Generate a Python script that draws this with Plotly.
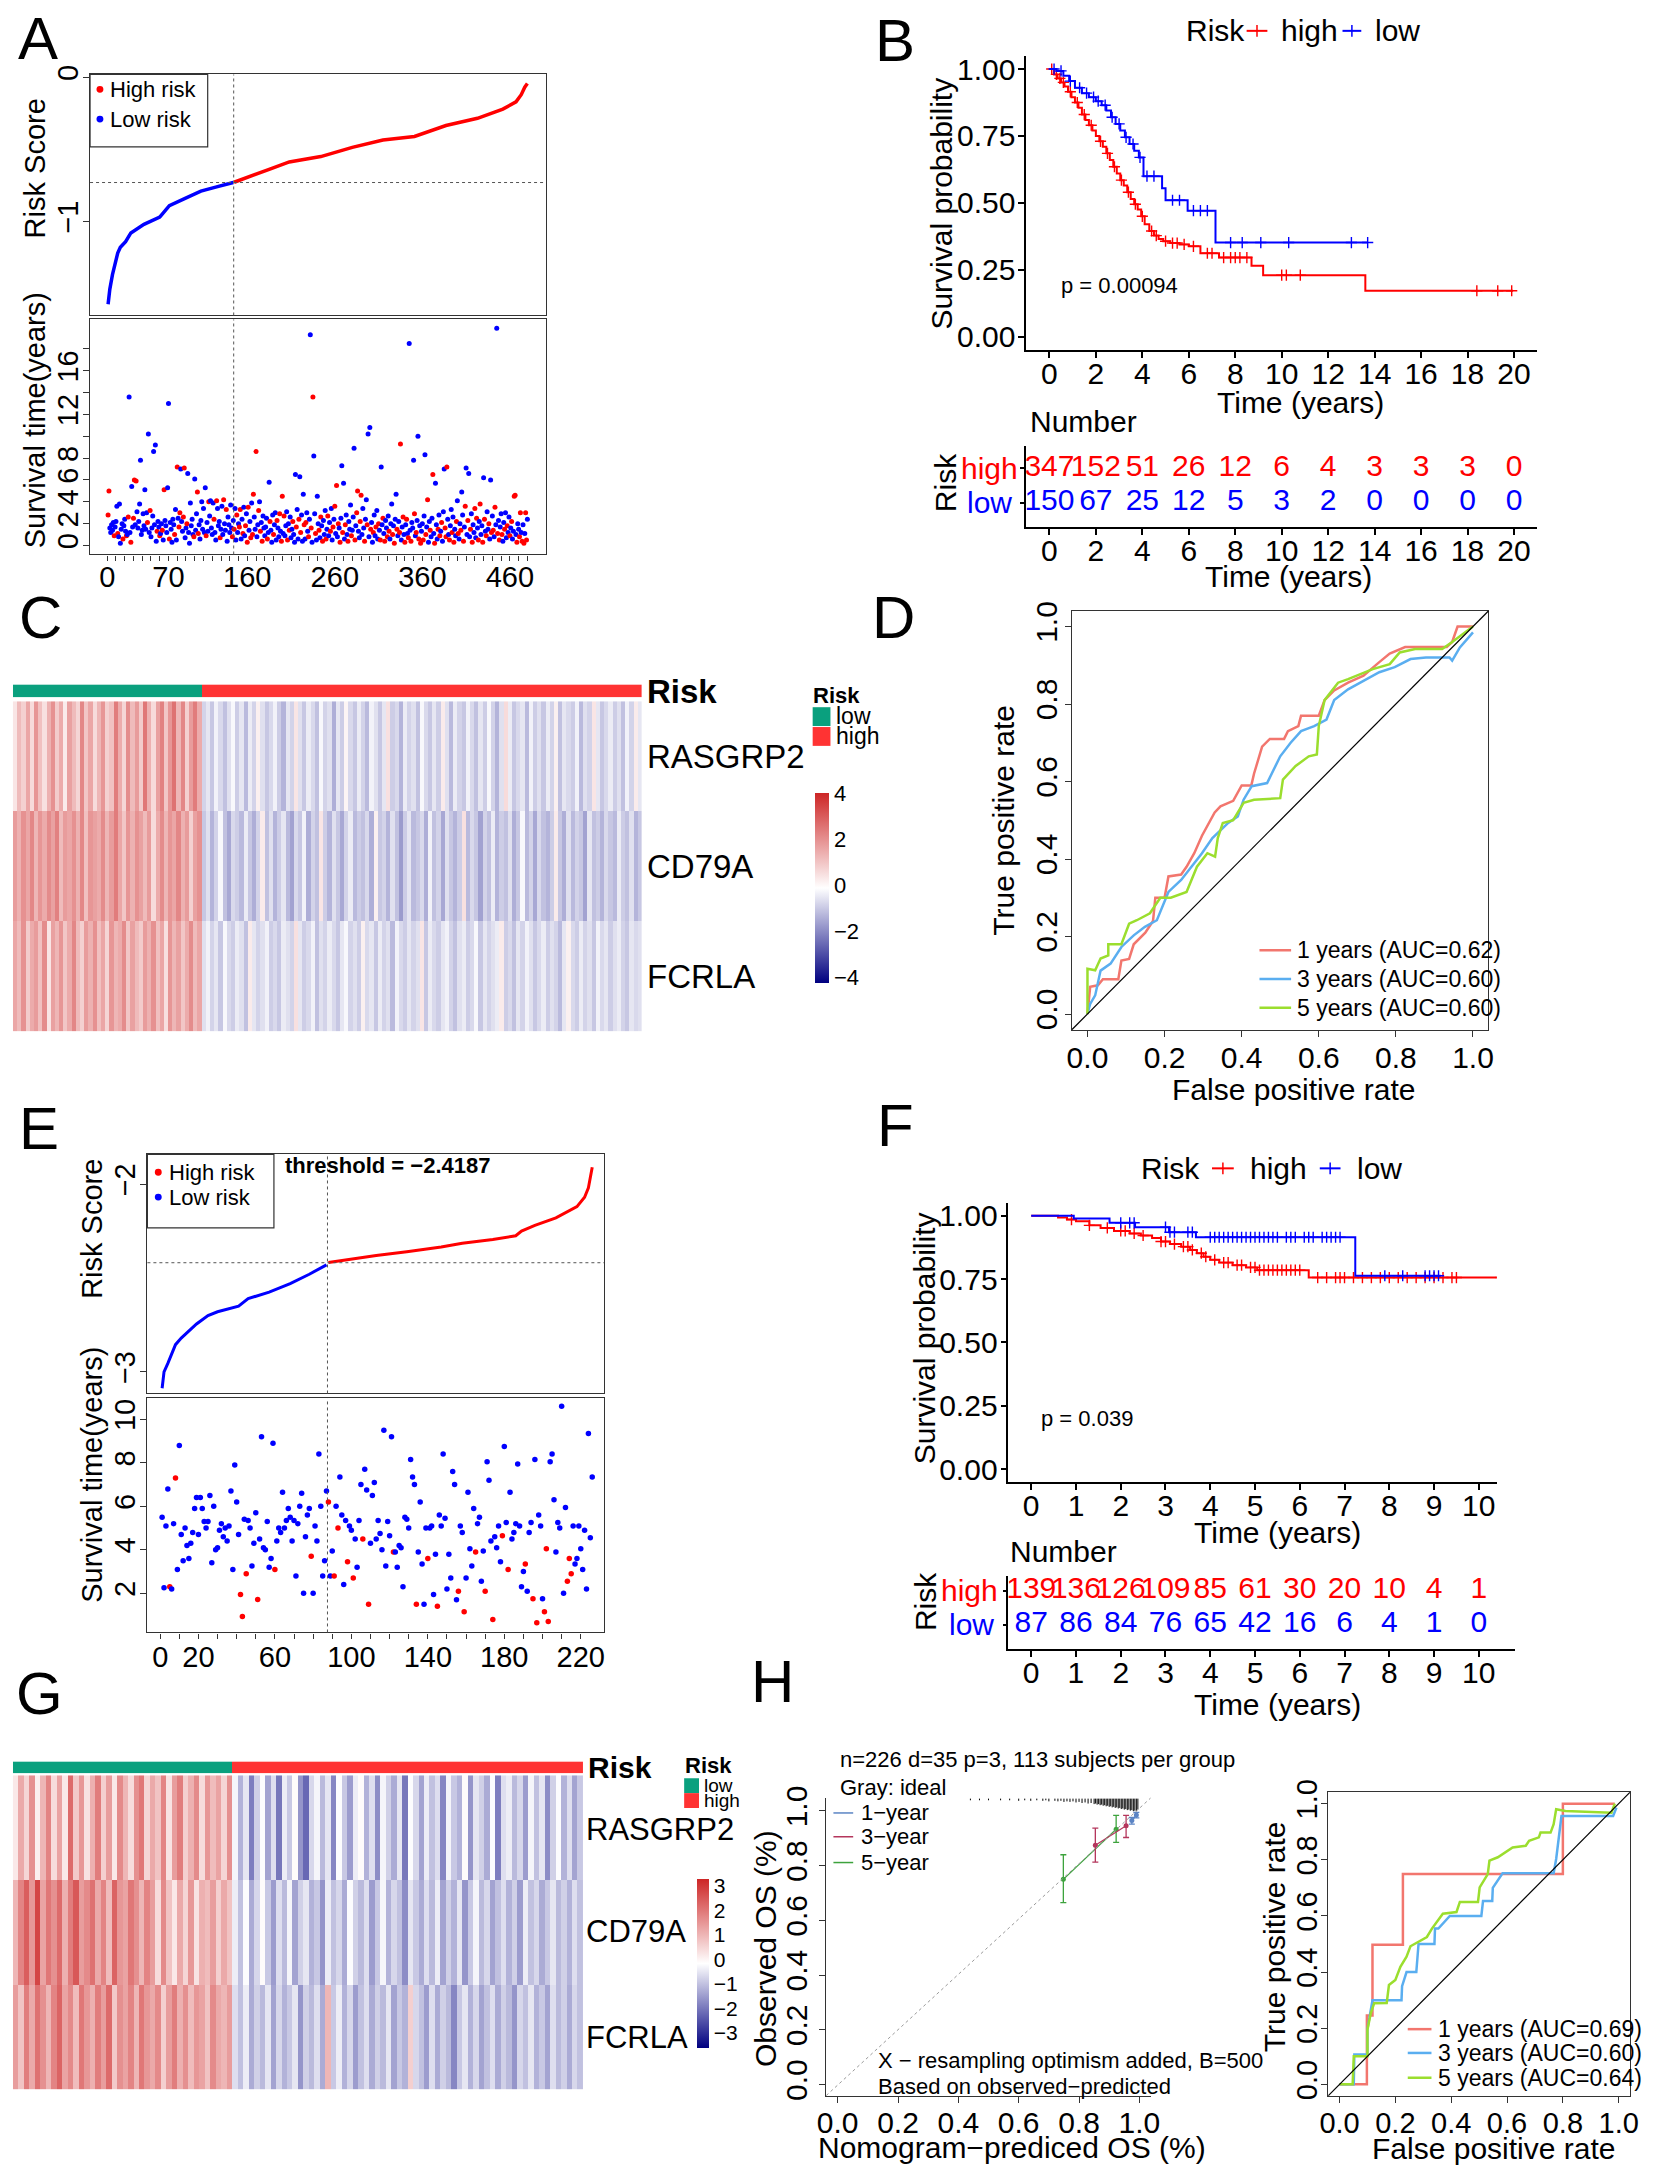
import numpy as np
import plotly.graph_objects as go

# ====================== DATA ======================
# ---- Panel A (training set risk plot) ----
A_low_rank = [1, 3, 6, 9, 12, 15, 21, 27, 42, 60, 71, 89, 107, 125, 144]
A_low_score = [-1.575, -1.47, -1.37, -1.30, -1.22, -1.18, -1.14, -1.08, -1.02, -0.97, -0.89, -0.84, -0.79, -0.76, -0.73]
A_high_rank = [145, 167, 185, 208, 244, 280, 315, 351, 387, 423, 452, 467, 473, 477, 480]
A_high_score = [-0.728, -0.676, -0.638, -0.587, -0.55, -0.486, -0.435, -0.41, -0.334, -0.284, -0.22, -0.17, -0.12, -0.068, -0.043]
A_threshold = -0.73
A_n_low = 144
A_time = [
    2.8,5.0,1.6,1.2,1.9,1.4,2.1,0.9,1.7,2.2,3.6,1.1,0.8,3.8,0.2,1.5,2.0,0.6,1.8,2.4,
    1.3,0.9,1.0,2.6,13.6,1.2,0.3,5.4,1.7,2.5,6.0,1.9,5.9,3.1,1.6,2.2,3.8,7.8,1.0,1.4,
    2.9,1.8,5.1,1.5,3.0,2.1,10.2,1.2,3.2,0.8,1.6,2.7,8.6,1.9,9.2,0.4,1.3,2.2,1.7,0.9,
    1.1,2.0,1.4,0.5,5.1,2.3,1.8,1.2,5.3,13.0,0.6,2.1,1.5,0.3,2.4,1.9,1.0,3.3,0.5,7.2,
    2.5,1.7,3.0,7.0,2.2,1.3,2.6,7.1,0.7,1.6,2.0,6.6,1.2,0.2,3.9,1.8,2.4,1.0,0.8,6.1,
    1.4,2.9,4.9,1.1,1.9,0.6,2.3,4.0,1.5,3.4,1.2,5.3,0.9,2.1,1.3,4.0,2.7,4.1,1.6,1.0,
    3.9,2.4,1.2,0.5,4.1,3.4,1.8,2.2,0.7,1.5,3.6,1.0,4.2,2.0,1.4,3.3,0.4,2.6,1.9,1.2,
    3.7,1.6,0.8,2.3,1.5,3.4,0.5,2.8,1.2,2.0,1.7,3.3,0.6,2.4,1.1,3.5,0.9,1.8,2.9,0.3,
    3.5,1.4,2.2,0.7,3.9,1.0,4.7,2.6,1.5,8.6,0.8,1.9,3.2,4.0,1.3,2.1,0.4,2.7,1.6,0.9,
    1.7,2.5,0.6,1.2,5.8,2.2,1.4,0.3,2.8,1.0,1.9,3.0,0.5,2.3,1.6,0.8,2.9,1.3,0.4,4.5,
    1.1,2.7,0.9,1.8,3.1,0.5,2.0,1.4,2.6,0.7,1.5,2.2,1.0,0.3,6.5,1.7,3.3,0.6,2.4,6.3,
    1.2,2.8,0.4,4.7,1.9,0.6,2.1,3.0,1.3,0.8,2.4,19.3,1.6,0.3,13.6,8.2,2.9,1.1,0.5,4.5,
    2.0,1.4,0.7,2.6,1.8,0.4,2.3,1.0,3.2,0.6,1.5,2.7,0.9,2.1,1.3,3.4,0.5,1.7,2.4,3.6,
    1.1,5.5,0.8,2.0,1.6,0.3,2.5,7.3,1.2,5.7,0.6,1.9,2.8,1.0,0.4,2.2,1.5,3.7,0.9,1.4,
    2.6,8.9,0.5,1.8,3.0,5.0,1.3,0.7,2.2,4.6,1.0,3.4,1.6,0.4,2.4,4.2,1.9,10.2,0.8,10.8,
    1.5,2.1,0.3,1.2,2.8,0.9,1.7,3.2,0.6,2.0,1.4,0.5,7.2,1.9,2.5,1.1,0.4,2.3,1.6,0.8,
    2.7,1.3,0.6,2.0,3.8,1.0,1.8,0.2,2.4,4.7,1.5,0.9,2.2,1.2,9.3,0.5,1.7,2.6,1.0,0.3,
    1.9,2.4,1.1,0.7,18.5,1.4,0.4,2.1,1.6,7.8,2.9,0.9,1.2,2.3,10.0,0.6,1.8,0.2,1.3,2.0,
    0.5,2.7,8.3,1.0,1.7,4.2,0.3,2.2,1.4,0.8,2.5,6.5,1.1,0.2,5.7,1.9,0.6,1.5,2.8,0.9,
    1.3,2.1,0.4,3.1,7.0,1.6,0.8,7.2,2.4,1.0,0.5,1.8,3.3,1.2,2.6,0.3,1.5,0.9,2.2,4.1,
    1.1,0.6,2.0,1.4,4.9,2.8,0.4,1.7,3.6,7.1,1.0,2.3,6.6,0.8,1.5,2.9,0.3,1.9,1.2,3.4,
    0.7,2.5,1.6,0.5,2.2,3.8,1.0,1.8,0.3,6.2,2.4,1.3,0.9,3.1,1.5,2.0,0.6,6.0,1.2,2.7,
    1.4,0.8,3.5,1.9,19.9,1.1,2.3,0.5,1.7,2.9,1.0,0.4,2.1,1.5,3.0,0.7,1.8,1.2,2.6,0.9,
    1.6,2.2,0.6,1.3,4.5,4.6,1.0,0.3,2.0,1.5,0.8,3.0,1.2,0.4,1.9,0.2,1.1,3.0,0.5,2.4]
A_dead = [
    1,1,0,0,0,0,0,1,0,0,0,1,0,0,0,0,0,1,0,0,
    0,1,0,1,0,0,1,0,0,1,1,0,1,0,0,0,0,0,0,0,
    0,0,0,0,0,1,0,0,1,0,0,0,0,0,0,0,1,0,0,1,
    0,0,1,0,1,0,0,0,0,0,1,0,0,0,0,0,1,0,0,1,
    0,1,1,0,0,0,1,1,0,0,1,0,0,0,0,0,0,0,1,0,
    0,0,1,1,0,0,0,0,0,0,0,0,1,0,0,1,0,0,0,0,
    0,1,0,0,1,0,0,0,1,0,0,0,1,0,0,1,0,0,0,0,
    0,0,1,0,1,0,0,1,0,0,1,1,0,0,1,0,0,1,0,1,
    1,0,0,1,0,1,1,0,0,1,0,0,1,0,1,0,1,0,0,0,
    0,0,1,0,0,1,0,0,0,1,0,0,0,1,0,0,1,0,1,1,
    0,1,0,0,0,1,0,1,0,0,0,1,0,0,0,1,0,0,1,0,
    1,0,0,0,1,0,1,0,0,1,0,0,1,0,1,0,0,1,0,0,
    0,1,0,1,0,1,0,0,0,1,0,1,0,0,1,0,0,1,0,1,
    0,1,0,1,0,1,0,0,1,0,0,1,0,0,1,0,0,0,1,0,
    0,0,1,0,1,1,0,0,1,1,0,0,0,1,0,0,1,0,0,0,
    1,0,0,1,0,0,1,0,0,1,0,1,0,0,1,0,1,0,0,1,
    0,1,0,0,0,1,0,1,0,0,1,0,0,1,1,0,0,1,0,1,
    0,1,0,1,0,0,1,0,0,0,1,0,1,0,0,1,0,1,0,0,
    1,0,0,1,0,1,0,0,1,0,0,1,0,1,0,0,0,1,0,1,
    0,1,0,0,0,1,1,1,0,0,1,0,0,1,0,1,0,0,1,0,
    1,0,0,1,0,0,1,0,1,0,0,1,0,0,1,0,1,0,0,1,
    0,1,0,1,0,1,0,0,1,0,1,0,1,0,0,1,0,0,1,0,
    1,0,1,0,0,1,0,1,0,0,1,0,0,1,0,0,1,0,0,1,
    0,1,0,0,1,1,0,1,0,0,1,1,0,1,0,1,0,1,1,0]
A_xtick_labels = [0, 70, 160, 260, 360, 460]
A_ytick_labels = [0, 2, 4, 6, 8, 12, 16]

# ---- Panel B (training KM) ----
B_high_t = [0, 0.2, 0.35, 0.5, 0.65, 0.8, 0.95, 1.1, 1.25, 1.4, 1.55, 1.7, 1.85, 2.0, 2.15, 2.3, 2.45, 2.6, 2.75, 2.9,
            3.05, 3.2, 3.35, 3.5, 3.65, 3.8, 3.95, 4.1, 4.3, 4.5, 4.7, 4.9, 5.2, 5.6, 6.0, 6.5, 7.3, 8.7, 9.2, 13.6]
B_high_s = [1.0, 0.98, 0.965, 0.95, 0.935, 0.915, 0.895, 0.875, 0.855, 0.83, 0.81, 0.79, 0.77, 0.75, 0.73, 0.71, 0.685, 0.66, 0.635, 0.61,
            0.585, 0.565, 0.54, 0.515, 0.495, 0.475, 0.45, 0.42, 0.395, 0.378, 0.365, 0.357, 0.35, 0.345, 0.338, 0.312, 0.296, 0.265, 0.23, 0.172]
B_high_end = 19.96
B_high_cens = [0.1, 0.3, 0.45, 0.6, 0.9, 1.2, 1.5, 1.8, 2.2, 2.5, 2.8, 3.1, 3.4, 3.7, 4.0, 4.4, 4.6, 5.0, 5.3, 5.5, 5.8,
               6.2, 6.8, 7.0, 7.5, 7.8, 8.0, 8.2, 8.5, 10.0, 10.2, 10.8, 18.4, 19.3, 19.9]
B_low_t = [0, 0.3, 0.6, 0.85, 1.1, 1.4, 1.7, 2.0, 2.25, 2.45, 2.65, 2.85, 3.05, 3.25, 3.45, 3.65, 3.85, 4.05, 4.85, 5.0, 5.95, 7.15]
B_low_s = [1.0, 0.993, 0.975, 0.955, 0.93, 0.91, 0.895, 0.88, 0.865, 0.845, 0.82, 0.795, 0.77, 0.745, 0.72, 0.695, 0.67, 0.60, 0.555, 0.51, 0.471, 0.352]
B_low_end = 13.7
B_low_cens = [0.2, 0.5, 0.9, 1.3, 1.6, 1.9, 2.1, 2.4, 2.7, 3.0, 3.3, 3.6, 3.9, 4.2, 4.5, 5.3, 5.6, 6.2, 6.5, 6.8, 7.8, 8.3, 9.1, 10.3, 13.0, 13.7]
B_table_t = [0, 2, 4, 6, 8, 10, 12, 14, 16, 18, 20]
B_table_high = [347, 152, 51, 26, 12, 6, 4, 3, 3, 3, 0]
B_table_low = [150, 67, 25, 12, 5, 3, 2, 0, 0, 0, 0]
B_pval = "p = 0.00094"

# ---- Panel C (training heatmap) ----
C_genes = ["RASGRP2", "CD79A", "FCRLA"]
C_RAS_low = [0.4,1.2,0.8,1.6,0.6,1.9,1.1,0.5,1.4,2.0,0.9,1.5,0.3,1.7,1.2,0.7,2.2,1.0,1.6,0.6,1.3,1.9,0.8,1.1,2.4,
             1.5,0.7,2.1,1.2,1.8,0.9,2.5,1.4,0.6,1.7,2.3,1.0,1.9,2.6,1.3,2.2,0.8,1.8,2.4,1.5]
C_RAS_high = [-0.8,-0.5,-1.0,-0.3,-0.7,-1.1,-0.6,-0.2,-0.9,-0.5,-1.2,-0.4,-0.8,0.2,-0.6,-1.0,-0.7,-0.3,-0.9,-1.3,
              -0.5,-0.8,0.4,-0.6,-1.0,-0.4,-0.7,-1.1,-0.2,-0.8,-0.6,-1.4,-0.5,-0.9,0.1,-0.7,-1.0,-0.4,-0.8,-1.2,
              -0.3,-0.6,-1.0,-0.5,0.5,-0.9,-0.7,-1.3,-0.4,-0.8,-0.6,-1.1,-0.2,-0.7,-1.0,-0.5,-0.9,0.3,-0.6,-1.2,
              -0.4,-0.8,-1.0,-0.3,-0.7,-1.1,-0.5,-0.9,-0.2,-0.8,-1.3,-0.6,0.6,-0.4,-1.0,-0.7,-0.5,-1.2,-0.3,-0.9,
              -0.6,-1.0,-0.4,-0.8,0.2,-1.1,-0.5,-0.7,-0.9,-0.3,-1.2,-0.6,-0.8,0.4,-0.5,-1.0,-0.7,-0.4,-0.9,-0.6,
              -1.1,-0.3,-0.8,0.3,-0.5]
C_CD79A_low = [1.8,1.4,2.0,1.6,2.2,1.3,1.9,1.5,2.1,1.7,2.3,1.2,1.8,1.6,2.0,1.4,2.2,1.1,1.9,1.7,1.5,2.1,1.3,1.8,2.4,
               1.6,1.0,1.9,1.4,2.0,1.7,1.2,1.8,0.6,1.5,2.1,1.3,1.9,1.6,2.2,1.4,1.8,0.8,1.7,2.0]
C_CD79A_high = [-1.0,-0.6,-1.3,-0.8,-0.2,-1.1,-1.5,-0.7,-0.9,-1.2,-0.4,-1.0,-1.4,-0.8,0.3,-1.1,-0.6,-1.3,-0.9,-0.5,
                -1.2,-1.6,-0.7,-1.0,-0.3,-1.4,-0.8,-1.1,0.4,-0.9,-1.3,-0.6,-1.0,-1.5,-0.8,-0.4,-1.2,-0.9,-1.1,-0.7,
                -1.4,0.2,-1.0,-0.8,-1.3,-0.6,-1.1,-1.7,-0.9,-0.5,-1.2,-1.0,-0.7,-1.4,-0.3,-1.1,-0.8,-1.5,-0.6,-1.0,
                -1.3,-0.9,0.5,-1.2,-0.7,-1.0,-1.6,-0.8,-1.1,-0.4,-1.3,-0.9,-1.1,-0.6,-1.4,-1.0,-0.2,-1.2,-0.8,-1.5,
                -0.7,-1.1,-1.3,-0.9,0.3,-1.0,-1.4,-0.6,-1.2,-0.8,-1.0,-1.6,-0.5,-1.1,-0.9,-1.3,-0.7,-1.0,-1.2,-0.4,
                -0.9,-1.1,-0.6,-1.3,-1.0]
C_FCRLA_low = [1.6,1.2,2.0,0.9,1.5,1.8,1.1,2.1,0.4,1.7,1.3,1.9,1.0,1.5,2.2,1.2,0.8,1.8,1.4,2.0,1.1,1.6,0.7,1.9,1.3,
               1.5,2.1,1.0,1.7,1.2,0.9,1.8,1.4,2.0,1.1,1.6,0.5,1.9,1.3,1.7,1.0,1.5,2.1,1.2,1.6]
C_FCRLA_high = [-0.6,-0.3,-0.8,-0.5,-1.0,-0.2,-0.7,-0.9,-0.4,-0.6,-1.1,0.3,-0.5,-0.8,-0.6,-0.3,-0.9,-0.7,-1.0,-0.4,
                -0.6,-0.8,0.5,-0.5,-0.9,-0.7,-0.3,-1.1,-0.6,-0.8,-0.4,-0.7,-1.0,-0.5,-0.2,-0.8,-0.6,-0.9,0.2,-0.7,
                -0.5,-1.0,-0.4,-0.8,-0.6,-1.2,-0.3,-0.7,-0.9,-0.5,-0.8,-0.6,0.4,-1.0,-0.4,-0.7,-0.9,-0.5,-0.3,-0.8,
                -1.1,-0.6,-0.4,-0.9,-0.7,-0.2,-1.0,-0.5,-0.8,-0.6,-0.4,0.3,-0.9,-0.7,-1.1,-0.5,-0.8,-0.3,-0.6,-1.0,
                -0.7,-0.4,-0.9,-0.6,-0.8,-1.2,-0.5,0.2,-0.7,-0.9,-0.4,-0.8,-0.6,-1.0,-0.3,-0.7,-0.5,-0.9,-0.6,-0.4,
                -0.8,-1.0,-0.5,-0.7,-0.6]
C_zmin, C_zmax = -4.22, 4.04
C_cbar_ticks = [-4, -2, 0, 2, 4]

# ---- Panel D (training ROC) ----
D_fpr1 = [0,0.007,0.027,0.04,0.08,0.088,0.108,0.12,0.15,0.17,0.176,0.2,0.21,0.243,0.257,0.277,0.297,0.318,0.33,0.345,
          0.378,0.4,0.425,0.432,0.453,0.473,0.51,0.52,0.547,0.554,0.6,0.615,0.64,0.676,0.716,0.757,0.784,0.824,0.932,0.946,0.96,1.0]
D_tpr1 = [0,0.07,0.074,0.09,0.09,0.138,0.142,0.18,0.21,0.24,0.30,0.30,0.355,0.36,0.38,0.415,0.46,0.497,0.52,0.536,
          0.55,0.59,0.59,0.62,0.69,0.71,0.71,0.73,0.743,0.77,0.77,0.81,0.835,0.855,0.873,0.908,0.93,0.947,0.947,0.96,1.0,1.0]
D_fpr3 = [0,0.007,0.02,0.034,0.06,0.088,0.12,0.149,0.18,0.21,0.243,0.27,0.297,0.324,0.365,0.39,0.405,0.426,0.466,0.5,
          0.527,0.554,0.588,0.62,0.64,0.676,0.716,0.757,0.797,0.838,0.878,0.939,0.946,0.966,1.0]
D_tpr3 = [0,0.026,0.048,0.112,0.13,0.173,0.203,0.225,0.242,0.315,0.346,0.38,0.415,0.454,0.493,0.51,0.553,0.588,0.596,0.665,
          0.70,0.73,0.743,0.76,0.81,0.838,0.86,0.882,0.895,0.916,0.92,0.92,0.912,0.946,0.985]
D_fpr5 = [0,0,0.02,0.034,0.054,0.054,0.088,0.108,0.128,0.162,0.189,0.216,0.257,0.284,0.311,0.331,0.338,0.351,0.378,0.405,
          0.432,0.5,0.507,0.54,0.574,0.595,0.6,0.615,0.65,0.676,0.74,0.784,0.81,0.85,0.92,0.946,1.0]
D_tpr5 = [0,0.117,0.113,0.143,0.151,0.18,0.18,0.233,0.242,0.26,0.30,0.30,0.315,0.38,0.415,0.406,0.454,0.493,0.50,0.545,
          0.553,0.557,0.605,0.64,0.665,0.67,0.743,0.81,0.855,0.864,0.89,0.903,0.933,0.942,0.942,0.96,1.0]
D_labels = ["1 years (AUC=0.62)", "3 years (AUC=0.60)", "5 years (AUC=0.60)"]

# ---- Panel E (validation risk plot) ----
E_low_rank = [1, 2, 4, 6, 8, 11, 15, 19, 25, 30, 41, 46, 57, 68, 78, 87]
E_low_score = [-3.087, -3.0, -2.955, -2.905, -2.855, -2.82, -2.785, -2.745, -2.70, -2.68, -2.65, -2.61, -2.575, -2.53, -2.48, -2.43]
E_high_rank = [88, 99, 113, 129, 147, 158, 174, 186, 189, 196, 207, 218, 222, 224, 226]
E_high_score = [-2.418, -2.40, -2.38, -2.36, -2.335, -2.315, -2.295, -2.275, -2.25, -2.22, -2.18, -2.12, -2.07, -2.02, -1.91]
E_threshold = -2.4187
E_low_time = [5.5,2.25,5.1,6.8,2.3,2.2,5.2,7.3,3.1,8.8, 4.7,3.5,5.0,4.2,3.6,4.3,4.8,5.9,6.4,4.7,
              6.4,5.9,5.3,5.0,5.3,6.5,3.4,6.0,4.0,4.1, 4.9,5.2,4.6,5.0,4.4,5.1,6.7,3.1,7.9,6.2,
              4.7,1.95,0.93,5.4,2.9,5.35,5.0,3.25,4.3,5.7, 1.72,4.5,9.2,4.1,4.0,5.3,3.2,3.6,8.9,3.1,
              4.4,5.0,4.8,6.65,5.0,5.35,5.9,5.5,4.4,5.35, 2.8,5.2,6.0,6.6,2.0,4.6,5.6,5.9,3.7,2.0,
              5.1,4.4,8.4,6.0,2.8,3.5,6.7]
E_low_dead = [0,0,0,0,1,0,0,1,0,0, 0,0,0,0,0,0,0,0,0,0, 0,0,0,0,0,0,0,0,0,0, 0,0,0,0,0,0,0,0,0,0,
              0,1,1,0,1,0,0,0,0,0, 1,0,0,0,0,0,0,0,0,1, 0,0,0,0,0,0,0,0,0,0, 0,0,0,0,0,0,0,0,1,0,
              0,0,0,0,0,0,0]
E_high_time = [6.2,2.8,3.95,2.8,6.0,5.0,7.35,5.6,2.4,5.35, 3.45,5.1,4.9,2.7,4.5,3.2,5.35,7.0,4.5,7.7,
               6.75,1.5,4.3,6.5,7.1,4.5,5.35,4.75,4.0,9.5, 3.25,5.3,4.65,9.2,3.9,3.9,3.2,4.2,4.1,2.3,
               5.5,5.4,5.0,8.15,7.35,7.0,1.5,3.9,6.2,3.35, 1.5,5.0,3.6,5.0,5.1,1.95,3.8,1.4,5.6,5.1,
               8.4,5.45,2.2,3.8,2.7,7.6,7.0,1.7,2.1,5.1, 4.8,1.15,2.7,6.65,4.05,3.25,5.9,3.9,5.2,5.5,
               2.55,3.95,2.1,8.05,7.2,4.4,0.8,4.6,4.1,5.1, 3.45,4.65,8.75,5.25,3.1,6.65,4.5,4.8,5.2,7.95,
               5.1,2.3,3.0,3.35,2.1,4.8,5.25,1.75,8.15,0.65, 5.6,5.1,1.75,1.15,4.05,0.7,8.05,8.4,6.3,3.9,
               5.25,5.0,10.6,2.0,5.95,2.55,3.6,2.9,5.1,3.35, 3.6,5.1,4.05,3.1,4.9,2.2,9.35,4.55,7.35]
E_high_dead = [1,0,0,1,0,1,0,0,0,0, 1,0,0,1,0,0,0,0,1,0, 0,1,0,0,0,0,0,0,0,0, 0,0,0,0,1,0,0,0,0,0,
               0,0,0,0,0,0,1,0,0,0, 0,0,1,0,0,0,0,1,0,0, 0,0,0,0,0,0,0,0,1,0, 0,1,0,0,0,0,0,1,0,0,
               0,0,1,0,0,0,1,0,0,0, 0,1,0,0,1,0,0,0,0,0, 0,0,0,1,0,0,0,1,0,1, 0,0,0,1,1,1,0,0,0,0,
               0,0,0,0,0,1,1,1,0,0, 0,0,0,0,0,0,0,0,0]
E_xtick_labels = [0, 20, 60, 100, 140, 180, 220]

# ---- Panel F (validation KM) ----
F_high_t = [0, 0.6, 0.8, 1.0, 1.3, 1.55, 1.85, 2.2, 2.45, 2.7, 2.9, 3.1, 3.35, 3.55, 3.7, 3.85, 4.0, 4.2, 4.5, 4.8, 5.05, 6.2]
F_high_s = [1.0, 0.993, 0.985, 0.978, 0.962, 0.952, 0.94, 0.93, 0.922, 0.912, 0.898, 0.888, 0.878, 0.865, 0.852, 0.838, 0.826, 0.815, 0.805, 0.796, 0.785, 0.756]
F_high_end = 10.5
F_high_cens = [0.9, 1.3, 1.7, 2.0, 2.1, 2.3, 2.5, 2.9, 3.0, 3.2, 3.4, 3.5, 3.6, 3.8, 3.9, 4.1, 4.3, 4.4, 4.6, 4.7, 4.9, 5.0,
               5.1, 5.2, 5.3, 5.4, 5.5, 5.6, 5.7, 5.8, 5.9, 6.0, 6.4, 6.6, 6.8, 6.9, 7.0, 7.2, 7.4, 7.6, 7.8, 8.0, 8.2, 8.4,
               8.6, 8.8, 9.0, 9.2, 9.4, 9.5, 10.5]
F_low_t = [0, 0.95, 1.75, 2.32, 3.08, 3.68, 7.24]
F_low_s = [1.0, 0.989, 0.972, 0.955, 0.935, 0.915, 0.763]
F_low_end = 9.15
F_low_cens = [2.0, 2.2, 2.3, 3.0, 3.1, 3.2, 3.5, 3.6, 4.0, 4.1, 4.2, 4.3, 4.4, 4.5, 4.6, 4.7, 4.8, 4.9, 5.0, 5.1, 5.2, 5.3,
              5.4, 5.5, 5.7, 5.8, 5.9, 6.1, 6.2, 6.3, 6.5, 6.6, 6.7, 6.8, 6.9, 7.9, 8.3, 8.8, 8.9, 9.0, 9.1]
F_table_t = [0, 1, 2, 3, 4, 5, 6, 7, 8, 9, 10]
F_table_high = [139, 136, 126, 109, 85, 61, 30, 20, 10, 4, 1]
F_table_low = [87, 86, 84, 76, 65, 42, 16, 6, 4, 1, 0]
F_pval = "p = 0.039"

# ---- Panel G (validation heatmap) ----
G_RAS_low = [0.2,1.2,0.5,1.6,0.1,1.0,1.8,0.4,1.3,0.2,2.2,0.7,1.5,0.3,1.1,1.9,0.6,1.4,0.2,1.7,
             1.0,0.4,1.6,2.0,0.5,1.2,0.8,1.8,0.3,1.4,1.9,0.6,1.1,1.7,0.4,1.5,0.9,1.3,0.5,1.6]
G_RAS_high = [-0.3,-1.2,-0.5,-1.9,-0.8,-0.2,-1.4,-0.6,-2.0,-0.4,-0.9,-0.1,-1.6,-2.2,-0.7,-0.3,-1.1,-0.5,-1.8,-0.2,
              -0.9,-1.5,-0.4,-0.1,-1.2,-0.6,-1.7,-0.3,-0.8,-1.3,-0.5,-2.0,-0.2,-0.7,-1.4,-0.4,-1.0,-0.6,-1.8,-0.3,
              -0.9,-1.2,-0.1,-1.6,-0.5,-0.8,-1.3,-0.2,-1.9,-0.6,-0.4,-1.1,-0.7,-1.5,-0.3,-1.0,-0.5,-1.7,-0.8,-0.2,
              -1.2,-0.6,-1.4,-0.9]
G_CD79A_low = [1.0,1.8,2.4,1.5,2.8,1.3,2.0,1.6,2.2,1.1,1.9,2.5,1.4,1.7,2.1,1.2,1.8,0.9,2.3,1.5,
               1.3,2.0,1.6,1.0,1.8,1.4,0.4,1.7,0.8,0.2,1.2,0.5,1.5,0.3,1.1,0.9,1.4,0.6,1.2,0.8]
G_CD79A_high = [-0.4,-1.0,-0.2,-1.3,-0.7,-0.1,-0.9,-1.5,-0.6,-1.1,-0.3,-1.4,-0.8,-0.5,-1.2,-0.9,-1.6,-0.4,-1.0,-0.7,
                -1.3,-0.2,-0.8,-1.1,-0.6,-1.5,-0.9,-0.3,-1.2,-0.7,-1.0,-1.7,-0.5,-0.9,-1.3,-0.6,-1.1,-0.4,-1.4,-0.8,
                -1.2,-0.5,-1.6,-0.9,-0.3,-1.1,-0.7,-1.4,-1.0,-0.6,-1.2,-0.8,-1.5,-0.4,-1.0,-0.7,-1.3,-0.9,-0.5,-1.1,
                -0.8,-1.2,-0.6,-1.0]
G_FCRLA_low = [1.4,0.8,1.9,1.2,2.1,1.6,1.0,1.8,2.3,1.3,1.7,0.9,2.0,1.5,1.1,1.9,1.4,2.2,0.7,1.6,
               1.3,1.8,1.0,2.0,1.5,1.2,1.7,0.6,1.4,1.9,1.1,1.6,0.9,1.5,1.3,0.8,1.7,1.2,1.0,1.4]
G_FCRLA_high = [-0.6,-1.0,-0.4,-1.3,-0.8,-1.1,-0.5,-1.4,-0.7,-1.2,-0.9,-0.5,-1.6,-0.8,-1.1,-0.6,-1.3,1.0,-0.9,-0.4,
                -1.2,-0.7,-1.5,-1.0,-0.6,-1.3,-0.8,-1.1,-0.5,-1.4,-0.9,-1.2,0.6,-0.7,-1.0,-1.5,-0.6,-1.3,-0.8,-1.1,
                -1.8,-0.9,-0.5,-1.2,-0.7,-1.4,-1.0,-0.6,-1.3,-0.8,-1.1,-1.6,-0.7,-1.0,-0.5,-1.2,-0.9,-1.4,-0.6,-1.1,
                -0.8,-1.3,-0.7,-1.0]
G_zmin, G_zmax = -3.61, 3.29
G_cbar_ticks = [-3, -2, -1, 0, 1, 2, 3]

# ---- Panel H (calibration + validation ROC) ----
H_title = "n=226 d=35 p=3, 113 subjects per group"
H_cal1_pred = [0.975, 0.99]; H_cal1_obs = [0.965, 0.985]; H_cal1_lo = [0.952, 0.975]; H_cal1_hi = [0.976, 0.995]
H_cal3_pred = [0.854, 0.956]; H_cal3_obs = [0.875, 0.946]; H_cal3_lo = [0.813, 0.903]; H_cal3_hi = [0.937, 0.984]
H_cal5_pred = [0.748, 0.923]; H_cal5_obs = [0.75, 0.933]; H_cal5_lo = [0.665, 0.885]; H_cal5_hi = [0.84, 0.984]
H_rug_x = [0.44,0.47,0.50,0.54,0.57,0.60,0.62,0.64,0.66,0.68,0.69,0.70,0.72,0.73,0.74,0.75,0.76,0.77,0.78,0.79,
           0.80,0.81,0.82,0.83,0.84,0.85,0.855,0.86,0.865,0.87,0.875,0.88,0.885,0.89,0.895,0.90,0.905,0.91,0.915,0.92,
           0.925,0.93,0.935,0.94,0.945,0.95,0.955,0.96,0.965,0.97,0.975,0.98,0.985,0.99,0.995]
H_rug_h = [0.006,0.006,0.006,0.006,0.006,0.008,0.006,0.008,0.006,0.008,0.006,0.01,0.008,0.01,0.008,0.012,0.01,0.012,0.01,0.014,
           0.012,0.016,0.014,0.018,0.016,0.02,0.018,0.022,0.02,0.024,0.022,0.026,0.024,0.028,0.026,0.03,0.028,0.032,0.03,0.034,
           0.032,0.036,0.034,0.038,0.036,0.04,0.038,0.042,0.04,0.044,0.042,0.046,0.044,0.046,0.04]
H_fpr1 = [0, 0.098, 0.098, 0.118, 0.118, 0.227, 0.227, 0.80, 0.80, 0.986]
H_tpr1 = [0, 0, 0.245, 0.245, 0.497, 0.497, 0.749, 0.749, 1.0, 1.0]
H_fpr3 = [0,0.051,0.053,0.1,0.1,0.118,0.171,0.222,0.224,0.24,0.275,0.283,0.34,0.342,0.354,0.395,0.508,0.514,0.547,0.549,
          0.584,0.767,0.776,0.795,0.98,0.992]
H_tpr3 = [0,0,0.106,0.106,0.197,0.30,0.30,0.30,0.35,0.40,0.40,0.50,0.50,0.555,0.555,0.60,0.60,0.653,0.653,0.70,
          0.752,0.752,0.803,0.956,0.956,0.986]
H_fpr5 = [0,0.047,0.051,0.1,0.1,0.112,0.124,0.169,0.177,0.2,0.218,0.24,0.254,0.281,0.313,0.331,0.348,0.37,0.419,0.431,
          0.496,0.502,0.531,0.537,0.567,0.62,0.667,0.679,0.714,0.72,0.756,0.767,0.776,0.809,0.974,0.986]
H_tpr5 = [0,0,0.10,0.10,0.195,0.254,0.289,0.29,0.354,0.372,0.419,0.455,0.492,0.508,0.525,0.555,0.579,0.608,0.614,0.65,
          0.65,0.702,0.749,0.797,0.809,0.844,0.85,0.868,0.88,0.897,0.897,0.927,0.98,0.974,0.968,1.0]
H_labels = ["1 years (AUC=0.69)", "3 years (AUC=0.60)", "5 years (AUC=0.64)"]

# ====================== STYLE / HELPERS ======================
W, H = 1654, 2172
FONT = "Liberation Sans, Arial, Helvetica, sans-serif"
BOX = "#333333"
RED, BLUE = "#FF0000", "#0000FF"
TEAL, ANNRED = "#0AA07E", "#FF3333"
ROC1, ROC3, ROC5 = "#F2766E", "#5AAEF0", "#9BDE2E"
CAL1, CAL3, CAL5 = "#5B84C4", "#B4365C", "#3DA33D"


def X(p):
    return p / W


def Y(p):
    return 1 - p / H


def xdom(a, b):
    return [a / W, b / W]


def ydom(top, bottom):
    return [1 - bottom / H, 1 - top / H]


annotations, shapes, layout = [], [], {}


def ann(x, y, text, size, color="#000000", xanchor="center", yanchor="middle", angle=0, bold=False):
    if bold:
        text = "<b>" + text + "</b>"
    annotations.append(dict(x=X(x), y=Y(y), xref="paper", yref="paper", text=text, showarrow=False,
                            font=dict(size=size, color=color, family=FONT), xanchor=xanchor,
                            yanchor=yanchor, textangle=angle, borderpad=0))


def pline(x0, y0, x1, y1, color, width=1.0, dash=None):
    ln = dict(color=color, width=width)
    if dash:
        ln["dash"] = dash
    shapes.append(dict(type="line", xref="paper", yref="paper", x0=X(x0), y0=Y(y0), x1=X(x1), y1=Y(y1), line=ln))


def prect(x0, y0, x1, y1, fill, border=None):
    shapes.append(dict(type="rect", xref="paper", yref="paper", x0=X(x0), y0=Y(y1), x1=X(x1), y1=Y(y0),
                       fillcolor=fill, line=dict(width=0) if border is None else dict(color=border, width=1.2)))


def pcircle(cx, cy, r, fill):
    shapes.append(dict(type="circle", xref="paper", yref="paper", x0=X(cx - r), x1=X(cx + r), y0=Y(cy + r),
                       y1=Y(cy - r), fillcolor=fill, line=dict(width=0)))


def base_axis(domain, rng, anchor, tickvals=None, ticktext=None, labels=True, size=29, angle=None,
              mirror=True, lc=BOX, lw=1.2, ticklen=6, standoff=0):
    d = dict(domain=domain, range=rng, anchor=anchor, showgrid=False, zeroline=False,
             showline=True, mirror=mirror, linecolor=lc, linewidth=lw,
             ticks="outside" if tickvals is not None else "", ticklen=ticklen, tickwidth=lw, tickcolor=lc,
             showticklabels=labels, tickfont=dict(size=size, color="#000000", family=FONT),
             ticklabelstandoff=standoff)
    if tickvals is not None:
        d.update(tickmode="array", tickvals=tickvals)
        if ticktext is not None:
            d["ticktext"] = ticktext
    if angle is not None:
        d["tickangle"] = angle
    return d


def hidden_axis(domain, rng, anchor):
    return dict(domain=domain, range=rng, anchor=anchor, visible=False, showgrid=False, zeroline=False)


fig = go.Figure()

# ====================== PANEL A ======================
layout["xaxis"] = base_axis(xdom(82, 543), [-19.6, 501], "y", labels=False)
layout["yaxis"] = base_axis(ydom(62, 305), [-1.653, 0.02], "x", [-1, 0], ["\u22121", "0"], angle=-90, standoff=-7)
A_xt = list(range(0, 481, 10))
layout["xaxis2"] = base_axis(xdom(82, 543), [-19.6, 501], "y2", A_xt,
                             [str(v) if v in A_xtick_labels else "" for v in A_xt], ticklen=5, standoff=-8)
A_yt = list(range(0, 19, 2))
layout["yaxis2"] = base_axis(ydom(309, 546), [-0.82, 20.7], "x2", A_yt,
                             [str(v) if v in A_ytick_labels else "" for v in A_yt], angle=-90, standoff=-7)
fig.add_trace(go.Scatter(x=A_low_rank, y=A_low_score, mode="lines", line=dict(color=BLUE, width=3.5),
                         xaxis="x", yaxis="y", showlegend=False))
fig.add_trace(go.Scatter(x=A_high_rank, y=A_high_score, mode="lines", line=dict(color=RED, width=3.5),
                         xaxis="x", yaxis="y", showlegend=False))
nA = min(len(A_time), len(A_dead))
fig.add_trace(go.Scatter(x=list(range(1, nA + 1)), y=A_time[:nA], mode="markers",
                         marker=dict(size=5, color=[RED if d else BLUE for d in A_dead[:nA]]),
                         xaxis="x2", yaxis="y2", showlegend=False))
for xa, ya in (("x", "y"), ("x2", "y2")):
    shapes.append(dict(type="line", xref=xa, yref=ya + " domain", x0=A_n_low + 0.5, x1=A_n_low + 0.5, y0=0, y1=1,
                       line=dict(color="#555555", width=1, dash="dot")))
shapes.append(dict(type="line", xref="x domain", yref="y", x0=0, x1=1, y0=A_threshold, y1=A_threshold,
                   line=dict(color="#555555", width=1, dash="dot")))
prect(82, 62, 201, 135, "rgba(0,0,0,0)", border=BOX)
pcircle(92, 77, 3.5, RED)
ann(101, 77, "High risk", 22, xanchor="left")
pcircle(92, 107, 3.5, BLUE)
ann(101, 107, "Low risk", 22, xanchor="left")
ann(26, 157, "Risk Score", 29, angle=-90)
ann(26, 411, "Survival time(years)", 29, angle=-90)

# ====================== PANEL B ======================
KM_T = dict(lc="#000000", lw=1.6, mirror=False, size=30)


def km_traces(t, s, end, cens, color, xa, ya):
    xs = list(t) + [end]
    ys = list(s) + [s[-1]]
    fig.add_trace(go.Scatter(x=xs, y=ys, mode="lines", line=dict(color=color, width=2, shape="hv"),
                             xaxis=xa, yaxis=ya, showlegend=False))
    tt = np.array(t)
    cy = [s[int(np.searchsorted(tt, c, side="right")) - 1] for c in cens]
    fig.add_trace(go.Scatter(x=cens, y=cy, mode="markers",
                             marker=dict(symbol="cross-thin", size=8, line=dict(color=color, width=1.4)),
                             xaxis=xa, yaxis=ya, showlegend=False))


layout["xaxis3"] = base_axis(xdom(1029, 1546), [-1, 21], "y3", B_table_t, standoff=-10, **KM_T)
layout["yaxis3"] = base_axis(ydom(43, 340), [-0.05, 1.05], "x3", [0, 0.25, 0.5, 0.75, 1.0],
                             ["0.00", "0.25", "0.50", "0.75", "1.00"], standoff=-3, **KM_T)
km_traces(B_high_t, B_high_s, B_high_end, B_high_cens, RED, "x3", "y3")
km_traces(B_low_t, B_low_s, B_low_end, B_low_cens, BLUE, "x3", "y3")
layout["xaxis4"] = base_axis(xdom(1029, 1546), [-1, 21], "y4", B_table_t, standoff=-10, **KM_T)
layout["yaxis4"] = base_axis(ydom(437, 518), [0.314, 2.63], "x4", [1, 2], labels=False, ticklen=4,
                             lc="#000000", lw=1.6, mirror=False)
fig.add_trace(go.Scatter(x=B_table_t, y=[2] * len(B_table_t), mode="text", text=[str(v) for v in B_table_high],
                         textfont=dict(size=30, color=RED, family=FONT), xaxis="x4", yaxis="y4", showlegend=False))
fig.add_trace(go.Scatter(x=B_table_t, y=[1] * len(B_table_t), mode="text", text=[str(v) for v in B_table_low],
                         textfont=dict(size=30, color=BLUE, family=FONT), xaxis="x4", yaxis="y4", showlegend=False))
ann(1190, 18, "Risk", 30, xanchor="left")
pline(1252, 18, 1273, 18, RED, 2)
pline(1262.5, 12, 1262.5, 24, RED, 1.5)
ann(1286, 18, "high", 30, xanchor="left")
pline(1349, 18, 1368, 18, BLUE, 2)
pline(1358.5, 12, 1358.5, 24, BLUE, 1.5)
ann(1381, 18, "low", 30, xanchor="left")
ann(943, 192, "Survival probability", 30, angle=-90)
ann(1307, 393, "Time (years)", 30)
ann(1063, 275, B_pval, 22, xanchor="left")
ann(1032, 412, "Number", 30, xanchor="left")
ann(1022, 459, "high", 30, color=RED, xanchor="right")
ann(1016, 494, "low", 30, color=BLUE, xanchor="right")
ann(947, 474, "Risk", 30, angle=-90)
ann(1294, 568, "Time (years)", 30)


# ====================== HEATMAP HELPER ======================
def heatmap_panel(rows_low, rows_high, zmin, zmax, ticks, n, hx, hy, bx, by, cb_x, cb_y0, cb_y1, cb_th, cb_font):
    z = [list(lo) + list(hi) for lo, hi in zip(rows_low, rows_high)]
    ncol = len(z[0])
    nlow = len(rows_low[0])
    xa, ya = "x%d" % n, "y%d" % n
    xb, yb = "x%d" % (n + 1), "y%d" % (n + 1)
    layout["xaxis%d" % n] = hidden_axis(hx, [-0.5, ncol - 0.5], ya)
    layout["yaxis%d" % n] = hidden_axis(hy, [len(z) - 0.5, -0.5], xa)
    layout["xaxis%d" % (n + 1)] = hidden_axis(bx, [-0.5, ncol - 0.5], yb)
    layout["yaxis%d" % (n + 1)] = hidden_axis(by, [-0.5, 0.5], xb)
    fig.add_trace(go.Heatmap(
        z=z, x=list(range(ncol)), y=list(range(len(z))), zmin=zmin, zmax=zmax,
        colorscale=[[0, "#000080"], [0.5, "#FFFFFF"], [1, "#CD2626"]], xaxis=xa, yaxis=ya,
        colorbar=dict(x=X(cb_x), xanchor="left", xref="paper", y=Y((cb_y0 + cb_y1) / 2), yanchor="middle",
                      yref="paper", len=cb_y1 - cb_y0, lenmode="pixels", thickness=cb_th, thicknessmode="pixels",
                      xpad=0, ypad=0, outlinewidth=0, tickvals=ticks, ticks="",
                      tickfont=dict(size=cb_font, color="#000000", family=FONT))))
    fig.add_trace(go.Heatmap(
        z=[[0] * nlow + [1] * (ncol - nlow)], x=list(range(ncol)), y=[0], zmin=0, zmax=1, showscale=False,
        colorscale=[[0, TEAL], [0.5, TEAL], [0.5, ANNRED], [1, ANNRED]], xaxis=xb, yaxis=yb))


# ====================== PANEL C ======================
heatmap_panel([C_RAS_low, C_CD79A_low, C_FCRLA_low], [C_RAS_high, C_CD79A_high, C_FCRLA_high],
              C_zmin, C_zmax, C_cbar_ticks, 5, xdom(4, 640), ydom(694, 1027), xdom(4, 640), ydom(677, 690),
              815, 787, 977, 14, 22)
ann(644, 684, "Risk", 33, bold=True, xanchor="left")
for g, yc in zip(C_genes, [749.5, 860.5, 971.5]):
    ann(644, yc, g, 33, xanchor="left")
ann(812, 688, "Risk", 22, bold=True, xanchor="left")
prect(813, 700, 831, 719, TEAL)
prect(813, 720, 831, 739, ANNRED)
ann(836, 709, "low", 23, xanchor="left")
ann(836, 729, "high", 23, xanchor="left")

# ====================== PANEL D ======================
roc_ticks = [0, 0.2, 0.4, 0.6, 0.8, 1.0]
roc_text = ["0.0", "0.2", "0.4", "0.6", "0.8", "1.0"]
layout["xaxis7"] = base_axis(xdom(1075.4, 1496.6), [-0.04, 1.04], "y7", roc_ticks, roc_text, size=30, standoff=-5)
layout["yaxis7"] = base_axis(ydom(603, 1025), [-0.04, 1.04], "x7", roc_ticks, roc_text, size=30, angle=-90,
                             standoff=-4)
shapes.append(dict(type="line", xref="x7 domain", yref="y7 domain", x0=0, y0=0, x1=1, y1=1,
                   line=dict(color="#000000", width=1.2)))
for fx, ty, col in ((D_fpr1, D_tpr1, ROC1), (D_fpr3, D_tpr3, ROC3), (D_fpr5, D_tpr5, ROC5)):
    fig.add_trace(go.Scatter(x=fx, y=ty, mode="lines", line=dict(color=col, width=2.5), xaxis="x7", yaxis="y7",
                             showlegend=False))
for lab, col, yy in zip(D_labels, (ROC1, ROC3, ROC5), (945, 974, 1003)):
    pline(1265, yy, 1297, yy, col, 2.5)
    ann(1302, yy, lab, 23, xanchor="left")
ann(1006, 814, "True positive rate", 30, angle=-90)
ann(1299, 1085, "False positive rate", 30)

# ====================== PANEL E ======================
layout["xaxis8"] = base_axis(xdom(140, 602), [-6.7, 232.2], "y8", labels=False)
layout["yaxis8"] = base_axis(ydom(1151, 1392), [-3.115, -1.842], "x8", [-3, -2], ["\u22123", "\u22122"], angle=-90,
                             standoff=-6)
E_xt = list(range(0, 221, 10))
layout["xaxis9"] = base_axis(xdom(140, 602), [-6.7, 232.2], "y9", E_xt,
                             [str(v) if v in E_xtick_labels else "" for v in E_xt], ticklen=5, standoff=-6)
layout["yaxis9"] = base_axis(ydom(1397, 1633), [0.2, 10.96], "x9", [2, 4, 6, 8, 10], angle=-90, standoff=-6)
fig.add_trace(go.Scatter(x=E_low_rank, y=E_low_score, mode="lines", line=dict(color=BLUE, width=3),
                         xaxis="x8", yaxis="y8", showlegend=False))
fig.add_trace(go.Scatter(x=E_high_rank, y=E_high_score, mode="lines", line=dict(color=RED, width=3),
                         xaxis="x8", yaxis="y8", showlegend=False))
E_time = E_low_time + E_high_time
E_dead = E_low_dead + E_high_dead
nE = min(len(E_time), len(E_dead))
E_nlow = len(E_low_time)
fig.add_trace(go.Scatter(x=list(range(1, nE + 1)), y=E_time[:nE], mode="markers",
                         marker=dict(size=5.5, color=[RED if d else BLUE for d in E_dead[:nE]]),
                         xaxis="x9", yaxis="y9", showlegend=False))
for xa, ya in (("x8", "y8"), ("x9", "y9")):
    shapes.append(dict(type="line", xref=xa, yref=ya + " domain", x0=E_nlow + 0.5, x1=E_nlow + 0.5, y0=0, y1=1,
                       line=dict(color="#555555", width=1, dash="dot")))
shapes.append(dict(type="line", xref="x8 domain", yref="y8", x0=0, x1=1, y0=E_threshold, y1=E_threshold,
                   line=dict(color="#555555", width=1, dash="dot")))
prect(140, 1151, 268, 1225, "rgba(0,0,0,0)", border=BOX)
pcircle(151, 1169, 3.5, RED)
ann(161, 1169, "High risk", 22, xanchor="left")
pcircle(151, 1194, 3.5, BLUE)
ann(161, 1194, "Low risk", 22, xanchor="left")
ann(278, 1162, "threshold = \u22122.4187", 22, bold=True, xanchor="left")
ann(84, 1226, "Risk Score", 29, angle=-90)
ann(84, 1474, "Survival time(years)", 29, angle=-90)

# ====================== PANEL F ======================
layout["xaxis10"] = base_axis(xdom(1011, 1505), [-0.51, 10.4], "y10", F_table_t, standoff=-10, **KM_T)
layout["yaxis10"] = base_axis(ydom(1200, 1481), [-0.05, 1.05], "x10", [0, 0.25, 0.5, 0.75, 1.0],
                              ["0.00", "0.25", "0.50", "0.75", "1.00"], standoff=-3, **KM_T)
km_traces(F_high_t, F_high_s, F_high_end, F_high_cens, RED, "x10", "y10")
km_traces(F_low_t, F_low_s, F_low_end, F_low_cens, BLUE, "x10", "y10")
layout["xaxis11"] = base_axis(xdom(1011, 1524), [-0.51, 10.82], "y11", F_table_t, standoff=-10, **KM_T)
layout["yaxis11"] = base_axis(ydom(1576, 1650), [0.265, 2.44], "x11", [1, 2], labels=False, ticklen=4,
                              lc="#000000", lw=1.6, mirror=False)
fig.add_trace(go.Scatter(x=F_table_t, y=[2] * len(F_table_t), mode="text", text=[str(v) for v in F_table_high],
                         textfont=dict(size=30, color=RED, family=FONT), xaxis="x11", yaxis="y11", showlegend=False))
fig.add_trace(go.Scatter(x=F_table_t, y=[1] * len(F_table_t), mode="text", text=[str(v) for v in F_table_low],
                         textfont=dict(size=30, color=BLUE, family=FONT), xaxis="x11", yaxis="y11", showlegend=False))
ann(1144, 1165, "Risk", 30, xanchor="left")
pline(1217, 1165, 1239, 1165, RED, 2)
pline(1228, 1159, 1228, 1171, RED, 1.5)
ann(1254, 1165, "high", 30, xanchor="left")
pline(1326, 1165, 1347, 1165, BLUE, 2)
pline(1336.5, 1159, 1336.5, 1171, BLUE, 1.5)
ann(1363, 1165, "low", 30, xanchor="left")
ann(927, 1336, "Survival probability", 30, angle=-90)
ann(1283, 1532, "Time (years)", 30)
ann(1043, 1417, F_pval, 22, xanchor="left")
ann(1012, 1551, "Number", 30, xanchor="left")
ann(1001, 1591, "high", 30, color=RED, xanchor="right")
ann(997, 1625, "low", 30, color=BLUE, xanchor="right")
ann(927, 1602, "Risk", 30, angle=-90)
ann(1283, 1706, "Time (years)", 30)

# ====================== PANEL G ======================
heatmap_panel([G_RAS_low, G_CD79A_low, G_FCRLA_low], [G_RAS_high, G_CD79A_high, G_FCRLA_high],
              G_zmin, G_zmax, G_cbar_ticks, 12, xdom(4, 581), ydom(1777, 2094), xdom(4, 581), ydom(1763, 1775),
              696, 1882, 2051, 12, 21)
ann(585, 1769, "Risk", 30, bold=True, xanchor="left")
for g, yc in zip(C_genes, [1832, 1935, 2041]):
    ann(583, yc, g, 31, xanchor="left")
ann(683, 1767, "Risk", 22, bold=True, xanchor="left")
prect(683, 1780, 698, 1795, TEAL)
prect(683, 1795, 698, 1810, ANNRED)
ann(702, 1787, "low", 19, xanchor="left")
ann(702, 1802, "high", 19, xanchor="left")

# ====================== PANEL H (calibration) ======================
layout["xaxis14"] = base_axis(xdom(826.7, 1154.8), [-0.038, 1.037], "y14", roc_ticks, roc_text, size=30,
                              mirror=False, standoff=-6)
layout["yaxis14"] = base_axis(ydom(1800, 2100), [-0.04, 1.047], "x14", roc_ticks, roc_text, size=30, angle=-90,
                              mirror=False)
shapes.append(dict(type="line", xref="x14 domain", yref="y14 domain", x0=0, y0=0, x1=1, y1=1,
                   line=dict(color="#9A9A9A", width=1, dash="dot")))
rx, ry = [], []
for xv, hv in zip(H_rug_x, H_rug_h):
    rx += [xv, xv, None]
    ry += [1.045, 1.045 - hv, None]
fig.add_trace(go.Scatter(x=rx, y=ry, mode="lines", line=dict(color="#000000", width=1), xaxis="x14",
                         yaxis="y14", showlegend=False))
for pr, ob, lo, hi, col in ((H_cal5_pred, H_cal5_obs, H_cal5_lo, H_cal5_hi, CAL5),
                            (H_cal3_pred, H_cal3_obs, H_cal3_lo, H_cal3_hi, CAL3),
                            (H_cal1_pred, H_cal1_obs, H_cal1_lo, H_cal1_hi, CAL1)):
    fig.add_trace(go.Scatter(x=pr, y=ob, mode="lines+markers", line=dict(color=col, width=1.2),
                             marker=dict(size=5, color=col),
                             error_y=dict(type="data", symmetric=False, array=[h - o for h, o in zip(hi, ob)],
                                          arrayminus=[o - l for o, l in zip(ob, lo)], color=col, thickness=1.3,
                                          width=3),
                             xaxis="x14", yaxis="y14", showlegend=False))
ann(840, 1761, H_title, 22, xanchor="left")
ann(840, 1789, "Gray: ideal", 22, xanchor="left")
for lab, col, yy in (("1\u2212year", CAL1, 1815), ("3\u2212year", CAL3, 1839), ("5\u2212year", CAL5, 1865)):
    pline(834, yy, 854, yy, col, 1.5)
    ann(861, yy, lab, 22, xanchor="left")
ann(878, 2065, "X \u2212 resampling optimism added, B=500", 22, xanchor="left")
ann(878, 2091, "Based on observed\u2212predicted", 22, xanchor="left")
ann(1015, 2152, "Nomogram\u2212prediced OS (%)", 30)
ann(766, 1952, "Observed OS (%)", 30, angle=-90)

# ====================== PANEL H (ROC) ======================
layout["xaxis15"] = base_axis(xdom(1334.7, 1639.7), [-0.04, 1.04], "y15", roc_ticks, roc_text, size=29,
                              standoff=-4)
layout["yaxis15"] = base_axis(ydom(1794.3, 2100), [-0.04, 1.04], "x15", roc_ticks, roc_text, size=29, angle=-90,
                              standoff=-7)
shapes.append(dict(type="line", xref="x15 domain", yref="y15 domain", x0=0, y0=0, x1=1, y1=1,
                   line=dict(color="#000000", width=1.2)))
for fx, ty, col in ((H_fpr1, H_tpr1, ROC1), (H_fpr3, H_tpr3, ROC3), (H_fpr5, H_tpr5, ROC5)):
    fig.add_trace(go.Scatter(x=fx, y=ty, mode="lines", line=dict(color=col, width=2.5), xaxis="x15", yaxis="y15",
                             showlegend=False))
for lab, col, yy in zip(H_labels, (ROC1, ROC3, ROC5), (2033, 2057, 2082)):
    pline(1415, yy, 1439, yy, col, 2.5)
    ann(1445, yy, lab, 23, xanchor="left")
ann(1281, 1940, "True positive rate", 30, angle=-90)
ann(1502, 2153, "False positive rate", 30)

# ====================== PANEL LETTERS ======================
for letter, lx, ly in (("A", 29, 26), ("B", 896, 28), ("C", 32, 610), ("D", 895, 610),
                       ("E", 30, 1125), ("F", 897, 1122), ("G", 31, 1695), ("H", 772, 1682)):
    ann(lx, ly, letter, 60)

layout.update(dict(width=W, height=H, margin=dict(l=0, r=0, t=0, b=0, pad=0), paper_bgcolor="#FFFFFF",
                   plot_bgcolor="#FFFFFF", showlegend=False, font=dict(family=FONT, color="#000000"),
                   annotations=annotations, shapes=shapes))
fig.update_layout(**layout)
fig.write_html("out.html", config={"displayModeBar": False},
               post_script="document.body.style.margin='0px';document.body.style.overflow='hidden';")
